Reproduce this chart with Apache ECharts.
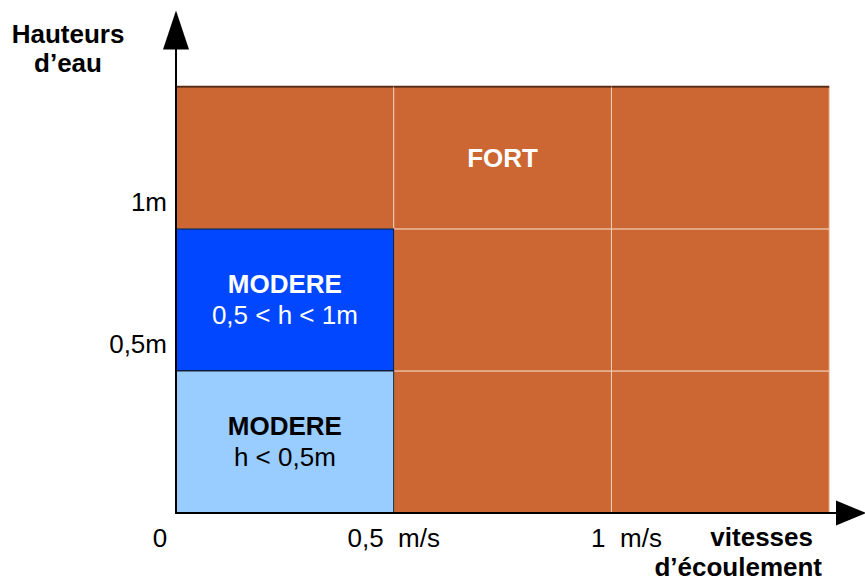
<!DOCTYPE html>
<html>
<head>
<meta charset="utf-8">
<script src="https://cdn.jsdelivr.net/npm/echarts@6/dist/echarts.min.js"></script>
<style>
html, body { margin: 0; padding: 0; background: #fff; }
#main { width: 865px; height: 583px; }
</style>
</head>
<body>
<div id="main"></div>
<script>
// bornes des classes : vitesse (m/s) et hauteur d'eau (m)
var vitesseBornes = [0, 0.5, 1, 1.5]
var hauteurBornes = [0, 0.5, 1, 1.5]
// niveau d'aléa par case, de la ligne du bas vers le haut
var niveaux = [
  ['modereBas', 'fort', 'fort'],
  ['modereHaut', 'fort', 'fort'],
  ['fort', 'fort', 'fort']
]
var titres = [
  ['MODERE', '', ''],
  ['MODERE', '', ''],
  ['', 'FORT', '']
]
var sousTitres = [
  ['h < 0,5m', '', ''],
  ['0,5 < h < 1m', '', ''],
  ['', '', '']
]
// libellés des graduations
var vitesseTicks = ['0', '0,5  m/s', '1  m/s']
var hauteurTicks = ['', '0,5m', '1m']

var police = 'Liberation Sans, Arial, sans-serif'
var taille = 26
var styles = {
  fort: { fill: '#CC6633', stroke: '#f2cdb8', text: '#fff' },
  modereHaut: { fill: '#0047FF', stroke: '#111', text: '#fff' },
  modereBas: { fill: '#99CCFF', stroke: '#111', text: '#000' }
}

// les cases orange d'abord, les bleues par-dessus
var cases = []
;['fort', 'modereHaut', 'modereBas'].forEach(function(n) {
  for (var i = 0; i < niveaux.length; i++) {
    for (var j = 0; j < niveaux[i].length; j++) {
      if (niveaux[i][j] !== n) continue
      cases.push({
        x0: vitesseBornes[j], x1: vitesseBornes[j + 1],
        y0: hauteurBornes[i], y1: hauteurBornes[i + 1],
        niveau: n, titre: titres[i][j], sousTitre: sousTitres[i][j]
      })
    }
  }
})

function renderItem(params, api) {
  var c = cases[params.dataIndex]
  var p0 = api.coord([c.x0, c.y1])
  var p1 = api.coord([c.x1, c.y0])
  var st = styles[c.niveau]
  var children = [{
    type: 'rect',
    shape: { x: p0[0], y: p0[1], width: p1[0] - p0[0], height: p1[1] - p0[1] },
    style: { fill: st.fill, stroke: st.stroke, lineWidth: 1 }
  }]
  if (c.y1 === hauteurBornes[hauteurBornes.length - 1]) {
    children.push({
      type: 'line',
      shape: { x1: p0[0], y1: p0[1], x2: p1[0], y2: p0[1] },
      style: { stroke: '#5a2a12', lineWidth: 2 }
    })
  }
  if (c.titre) {
    var txt = '{b|' + c.titre + '}'
    if (c.sousTitre) txt += '\n{n|' + c.sousTitre + '}'
    children.push({
      type: 'text',
      x: (p0[0] + p1[0]) / 2,
      y: (p0[1] + p1[1]) / 2,
      style: {
        text: txt,
        align: 'center',
        verticalAlign: 'middle',
        fill: st.text,
        rich: {
          b: { fontSize: taille, fontWeight: 'bold', fontFamily: police, fill: st.text, lineHeight: 31 },
          n: { fontSize: taille, fontFamily: police, fill: st.text, lineHeight: 31 }
        }
      }
    })
  }
  return { type: 'group', children: children }
}

var chart = echarts.init(document.getElementById('main'), null, { renderer: 'svg' })
var option = {
  animation: false,
  backgroundColor: '#fff',
  grid: { left: 176, right: 14, top: 30, bottom: 70 },
  xAxis: {
    type: 'value',
    min: 0,
    max: 1.55,
    interval: 0.5,
    z: 5,
    splitLine: { show: false },
    axisTick: { show: false },
    axisLine: {
      lineStyle: { color: '#000', width: 2 },
      symbol: ['none', 'triangle'],
      symbolSize: [25, 30]
    },
    axisLabel: {
      margin: 12,
      fontSize: taille,
      color: '#000',
      fontFamily: police,
      formatter: function(v) {
        var k = Math.round(v / 0.5)
        if (k === 0) return '{g|' + vitesseTicks[0] + '}'
        if (k === 2) return '{d|' + vitesseTicks[2] + '}'
        return vitesseTicks[k] || ''
      },
      rich: {
        g: { fontSize: taille, fontFamily: police, color: '#000', padding: [0, 32, 0, 0] },
        d: { fontSize: taille, fontFamily: police, color: '#000', padding: [0, 0, 0, 30] }
      }
    },
    name: '{v|vitesses}\n{e|d’écoulement}',
    nameLocation: 'end',
    nameGap: -29,
    nameMoveOverlap: false,
    nameTextStyle: {
      fontSize: taille,
      fontWeight: 'bold',
      fontFamily: police,
      color: '#000',
      align: 'right',
      verticalAlign: 'top',
      lineHeight: 29,
      padding: [9, 0, 0, 0],
      rich: {
        v: { fontSize: taille, fontWeight: 'bold', fontFamily: police, color: '#000', lineHeight: 30, padding: [0, 9, 0, 0] },
        e: { fontSize: taille, fontWeight: 'bold', fontFamily: police, color: '#000', lineHeight: 30 }
      }
    }
  },
  yAxis: {
    type: 'value',
    min: 0,
    max: 1.7,
    interval: 0.5,
    z: 5,
    splitLine: { show: false },
    axisTick: { show: false },
    axisLine: {
      lineStyle: { color: '#000', width: 2 },
      symbol: ['none', 'triangle'],
      symbolSize: [26, 39]
    },
    axisLabel: {
      margin: 9,
      fontSize: taille,
      color: '#000',
      fontFamily: police,
      verticalAlign: 'bottom',
      padding: [0, 0, 14, 0],
      formatter: function(v) {
        return hauteurTicks[Math.round(v / 0.5)] || ''
      }
    },
    name: 'Hauteurs\nd’eau',
    nameLocation: 'end',
    nameGap: 11,
    nameMoveOverlap: false,
    nameTextStyle: {
      fontSize: taille,
      fontWeight: 'bold',
      fontFamily: police,
      color: '#000',
      align: 'center',
      verticalAlign: 'top',
      lineHeight: 29,
      padding: [0, 216, 0, 0]
    }
  },
  series: [
    {
      type: 'custom',
      renderItem: renderItem,
      silent: true,
      data: cases.map(function(c) { return [c.x0, c.x1, c.y0, c.y1] }),
      encode: { x: [0, 1], y: [2, 3] }
    }
  ]
}
chart.setOption(option)
</script>
</body>
</html>
